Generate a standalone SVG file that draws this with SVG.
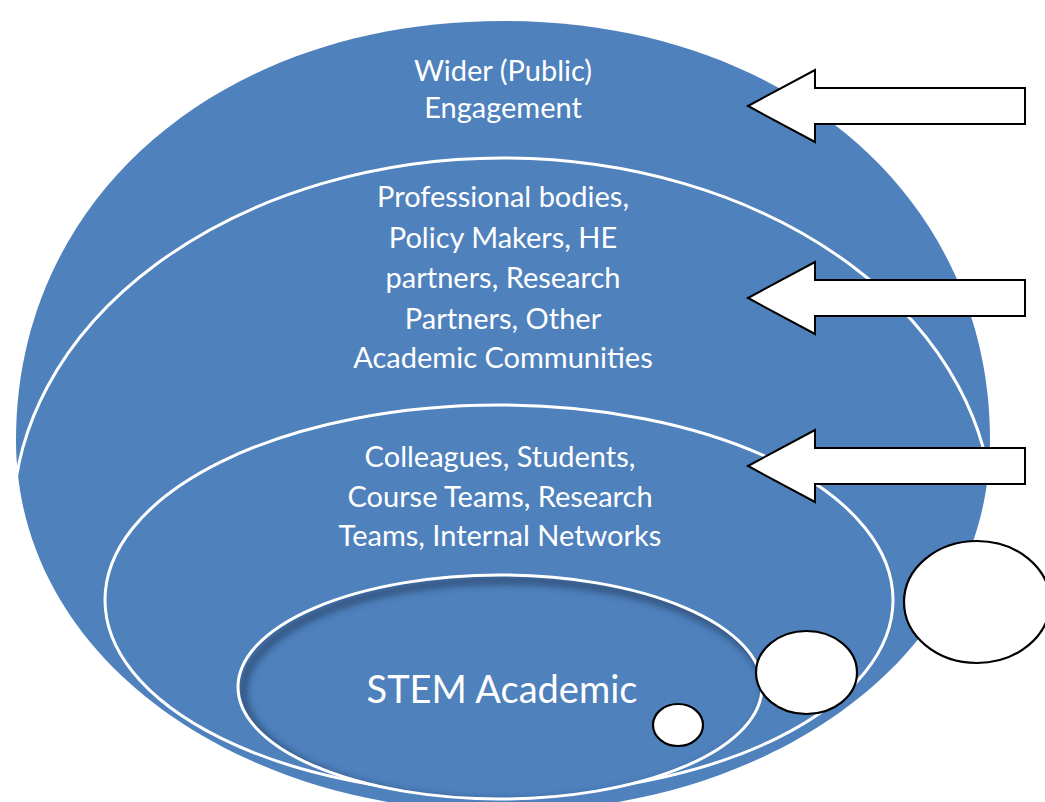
<svg xmlns="http://www.w3.org/2000/svg" width="1045" height="802" viewBox="0 0 1045 802">
  <style>
    .ring { fill: none; stroke: #ffffff; stroke-width: 3; }
    .label { font-family: Lato, "Open Sans", sans-serif; fill: #ffffff; text-anchor: middle; font-size: 29px; }
    .stem { font-size: 38px; }
    .arrow { fill: #ffffff; stroke: #000000; stroke-width: 2; stroke-linejoin: miter; }
    .bubble { fill: #ffffff; stroke: #000000; stroke-width: 2.2; }
  </style>
  <defs>
    <!-- block arrow pointing left, tip at the origin -->
    <path id="blockArrow" d="M0,0 L67,-36 L67,-18 L277,-18 L277,18 L67,18 L67,36 Z"/>
    <clipPath id="stemClip">
      <ellipse cx="500" cy="687" rx="262" ry="112"/>
    </clipPath>
    <filter id="soft" x="-10%" y="-10%" width="120%" height="120%">
      <feGaussianBlur stdDeviation="3"/>
    </filter>
  </defs>

  <rect width="1045" height="802" fill="#ffffff"/>

  <!-- outermost layer: wider engagement -->
  <g id="wider">
    <path fill="#4F81BD" d="M16,440 C16,197 220,21 503,21 C786,21 990,197 990,440 C990,660 766,812 503,812 C240,812 16,660 16,440 Z"/>
    <text class="label" x="503" y="81">Wider (Public)</text>
    <text class="label" x="503" y="118">Engagement</text>
  </g>

  <!-- second layer: professional bodies and partners -->
  <g id="professional">
    <ellipse class="ring" cx="503" cy="520" rx="490" ry="362"/>
    <text class="label" x="503" y="207">Professional bodies,</text>
    <text class="label" x="503" y="248">Policy Makers, HE</text>
    <text class="label" x="503" y="288">partners, Research</text>
    <text class="label" x="503" y="329">Partners, Other</text>
    <text class="label" x="503" y="368">Academic Communities</text>
  </g>

  <!-- third layer: colleagues and internal networks -->
  <g id="colleagues">
    <ellipse class="ring" cx="499" cy="600" rx="394" ry="195"/>
    <text class="label" x="500" y="467">Colleagues, Students,</text>
    <text class="label" x="500" y="507">Course Teams, Research</text>
    <text class="label" x="500" y="546">Teams, Internal Networks</text>
  </g>

  <!-- core: the academic, with an inset shadow -->
  <g id="stem">
    <ellipse cx="500" cy="687" rx="262" ry="112" fill="#4F81BD"/>
    <g clip-path="url(#stemClip)">
      <ellipse cx="505" cy="692" rx="262" ry="112" fill="none" stroke="#1f3a5c" stroke-opacity="0.55" stroke-width="10" filter="url(#soft)"/>
    </g>
    <ellipse class="ring" cx="500" cy="687" rx="262" ry="112"/>
    <text class="label stem" x="502" y="703">STEM Academic</text>
  </g>

  <!-- arrows pointing into each layer -->
  <g id="connectors">
    <use href="#blockArrow" class="arrow" x="748" y="106"/>
    <use href="#blockArrow" class="arrow" x="748" y="298"/>
    <use href="#blockArrow" class="arrow" x="748" y="466"/>
  </g>

  <!-- growing bubbles -->
  <g id="bubbles">
    <ellipse id="bubble-small" class="bubble" cx="678" cy="725" rx="25" ry="21"/>
    <ellipse id="bubble-mid" class="bubble" cx="806.5" cy="672.5" rx="50.5" ry="41.5"/>
    <ellipse id="bubble-large" class="bubble" cx="977" cy="602" rx="73" ry="61"/>
  </g>
</svg>
